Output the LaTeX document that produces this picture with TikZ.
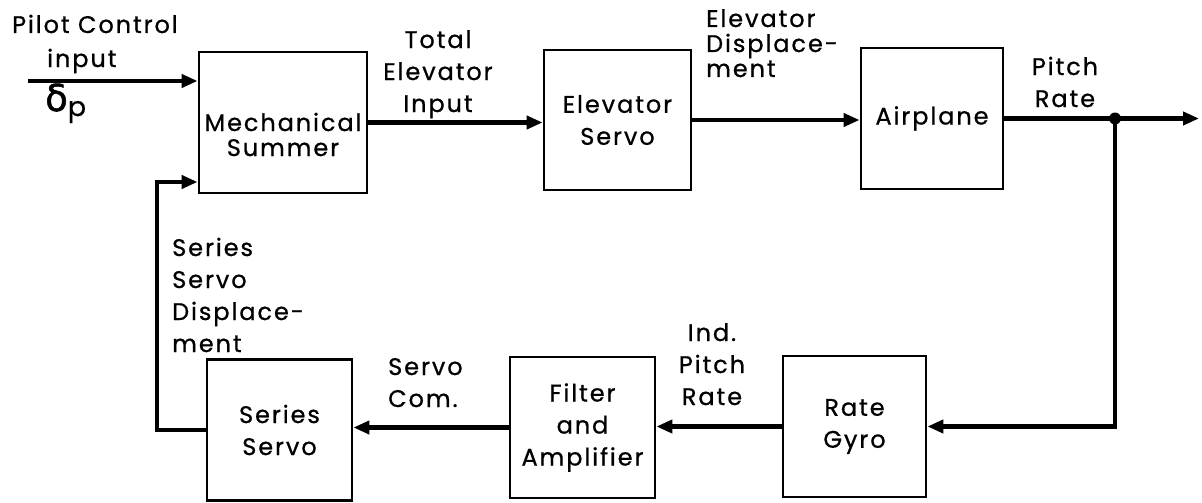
\documentclass[tikz,border=0pt]{standalone}
\usepackage{fontspec}
\setmainfont{Poppins}[LetterSpace=8, FakeBold=0.8]
\newfontfamily\dvfont{DejaVu Sans}[FakeBold=1.5]
\usetikzlibrary{arrows.meta}
\begin{document}
\begin{tikzpicture}[x=1pt,y=-1pt,
  box/.style={draw, line width=2.8pt, inner sep=0pt, align=center,
    font=\fontsize{24}{32}\selectfont},
  boxtext/.style={inner sep=0pt, align=center, font=\fontsize{24}{32}\selectfont},
  lab/.style={inner sep=0pt, font=\fontsize{24}{32}\selectfont},
  flow/.style={line width=4.5pt, -{Triangle[length=16pt,width=13pt]}},
  line/.style={line width=4.5pt},
  every path/.style={line join=miter}]
\useasboundingbox (0,0) rectangle (1202,503);
% blocks
\node[box, minimum width=168pt, minimum height=141pt] (ms) at (283,122.5) {};
\node[boxtext] (mstxt) at ([yshift=-12pt]ms.center) {Mechanical\\[-7pt]Summer};
\node[box, minimum width=147pt, minimum height=140pt] (es) at (617.5,120) {Elevator\\Servo};
\node[box, minimum width=142pt, minimum height=141pt] (ap) at (932,118.5) {Airplane};
\node[box, minimum width=145pt, minimum height=141pt] (ss) at (279.5,430) {Series\\Servo};
\node[box, minimum width=145pt, minimum height=141pt] (fa) at (582.5,427.5) {Filter\\and\\Amplifier};
\node[box, minimum width=143pt, minimum height=141pt] (rg) at (854.5,426.5) {Rate\\Gyro};
% coordinates
\coordinate (in) at (28,81);
\node[circle, fill, inner sep=0pt, minimum size=12pt] (dot) at (1115,118.5) {};
\coordinate (out) at (1199,118.5);
\coordinate (fb) at (157,182);
% connectors
\draw[flow] (in) -- (in -| ms.west);
\draw[flow] (ms.east) -- (ms.east -| es.west);
\draw[flow] (es.east) -- (es.east -| ap.west);
\draw[line] (ap.east) -- (dot.center);
\draw[flow] (dot.center) -- (out);
\draw[flow] (dot.center) |- (rg.east);
\draw[flow] (rg.west) -- (rg.west -| fa.east);
\draw[flow] (fa.west) -- (fa.west -| ss.east);
\draw[flow] (ss.west) -| (fb) -- (fb -| ms.west);
% labels (base anchor = last line baseline)
\node[lab, anchor=base west] (l1) at (12,33) {Pilot Control};
\node[lab, anchor=base west] (l2) at (47,67) {input};
\node[lab, anchor=base west] (l3) at (45,111) {{\dvfont\fontsize{37}{37}\selectfont δ}\raisebox{-5pt}{\fontsize{27}{27}\selectfont p}};
\node[lab, anchor=base, align=center] (l4) at (438,112) {Total\\Elevator\\Input};
\node[lab, anchor=base west, align=left] (l5) at (706,77) {Elevator\\[-7pt]Displace-\\[-7pt]ment};
\node[lab, anchor=base, align=center] (l6) at (1065,107) {Pitch\\Rate};
\node[lab, anchor=base west, align=left] (l7) at (172,352) {Series\\Servo\\Displace-\\ment};
\node[lab, anchor=base west, align=left] (l8) at (388,407) {Servo\\Com.};
\node[lab, anchor=base, align=center] (l9) at (712,405) {Ind.\\Pitch\\Rate};
\end{tikzpicture}
\end{document}
